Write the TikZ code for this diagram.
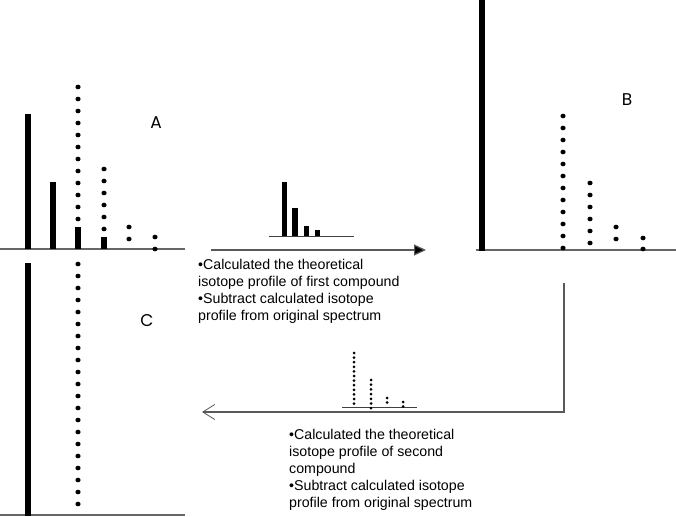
\documentclass[tikz,border=0pt]{standalone}
\usepackage{fontspec}
\setmainfont{Liberation Sans}
\newfontfamily\panelfont{Poppins}
\usetikzlibrary{arrows.meta}

\begin{document}
\begin{tikzpicture}[x=1pt,y=-1pt]
  \tikzstyle{bar} = [fill=black, draw=none]
  \tikzstyle{axis} = [draw=black!60, line width=1.3pt]
  \tikzstyle{miniaxis} = [draw=black!75, line width=0.9pt]
  \tikzstyle{dot} = [fill=black]
  \tikzstyle{panel} = [font=\panelfont\fontsize{17}{20}\selectfont, inner sep=0pt]
  \tikzstyle{note} = [font=\fontsize{14.2}{17}\selectfont, align=left, anchor=north west, inner sep=0pt]
  \tikzstyle{arrow} = [draw=black!65, line width=1.2pt, -{Triangle[length=12pt,width=11pt,fill=black]}]
  \tikzstyle{backarrow} = [draw=black!65, line width=1.2pt, -{Straight Barb[length=12pt,width=15pt,line width=0.8pt]}]

  \useasboundingbox (0,0) rectangle (676,516);

  % spectrum A
  \draw[axis] (0,249) -- (185,249);
  \fill[bar] (25,114) rectangle (31,249);
  \fill[bar] (50,182) rectangle (56,249);
  \fill[bar] (75,227) rectangle (81,249);
  \fill[bar] (101,237) rectangle (107,249);
  \foreach \y in {87,99,...,219} \fill[dot] (78,\y) ellipse (2.6 and 2.3);
  \foreach \y in {169,181,...,229} \fill[dot] (104,\y) ellipse (2.6 and 2.3);
  \foreach \y in {227,239} \fill[dot] (129,\y) ellipse (2.6 and 2.3);
  \foreach \y in {237,249} \fill[dot] (155,\y) ellipse (2.6 and 2.3);
  \node (labA) [panel] at (156,123) {A};

  % spectrum B
  \draw[axis] (476,250) -- (676,250);
  \fill[bar] (479,0) rectangle (485,251);
  \foreach \y in {116,128,...,248} \fill[dot] (563,\y) ellipse (2.6 and 2.3);
  \foreach \y in {183,195,...,243} \fill[dot] (590,\y) ellipse (2.6 and 2.3);
  \foreach \y in {227,239} \fill[dot] (616,\y) ellipse (2.6 and 2.3);
  \foreach \y in {238,249} \fill[dot] (643,\y) ellipse (2.6 and 2.3);
  \node (labB) [panel] at (627,100) {B};

  % spectrum C
  \draw[axis] (0,515) -- (185,515);
  \fill[bar] (25,263) rectangle (31,516);
  \foreach \y in {264,276,...,504} \fill[dot] (78,\y) ellipse (2.6 and 2.3);
  \node (labC) [panel] at (147,321) {C};

  % first step
  \draw[miniaxis] (269,236) -- (354,236);
  \fill[bar] (282,182) rectangle (287,236);
  \fill[bar] (292,208) rectangle (298,236);
  \fill[bar] (304,226) rectangle (309,236);
  \fill[bar] (315,230) rectangle (320,236);
  \coordinate (s1) at (211,250);
  \coordinate (e1) at (426,250);
  \draw[arrow] (s1) -- (e1);
  \node (note1) [note] at (198,259.5) {•Calculated the theoretical\\isotope profile of first compound\\•Subtract calculated isotope\\profile from original spectrum};

  % second step
  \draw[miniaxis] (342,407) -- (417,407);
  \foreach \i in {0,...,11} \fill[dot] (354,353+4.6*\i) circle (1.5);
  \foreach \i in {0,...,6} \fill[dot] (371,380+4.7*\i) circle (1.5);
  \foreach \y in {398,402.5} \fill[dot] (387,\y) circle (1.5);
  \foreach \y in {402,406.5} \fill[dot] (403,\y) circle (1.5);
  \coordinate (s2) at (564,283);
  \coordinate (e2) at (202,412);
  \draw[backarrow] (s2) |- (e2);
  \node (note2) [note] at (289,429.5) {•Calculated the theoretical\\isotope profile of second\\compound\\•Subtract calculated isotope\\profile from original spectrum};
\end{tikzpicture}
\end{document}
